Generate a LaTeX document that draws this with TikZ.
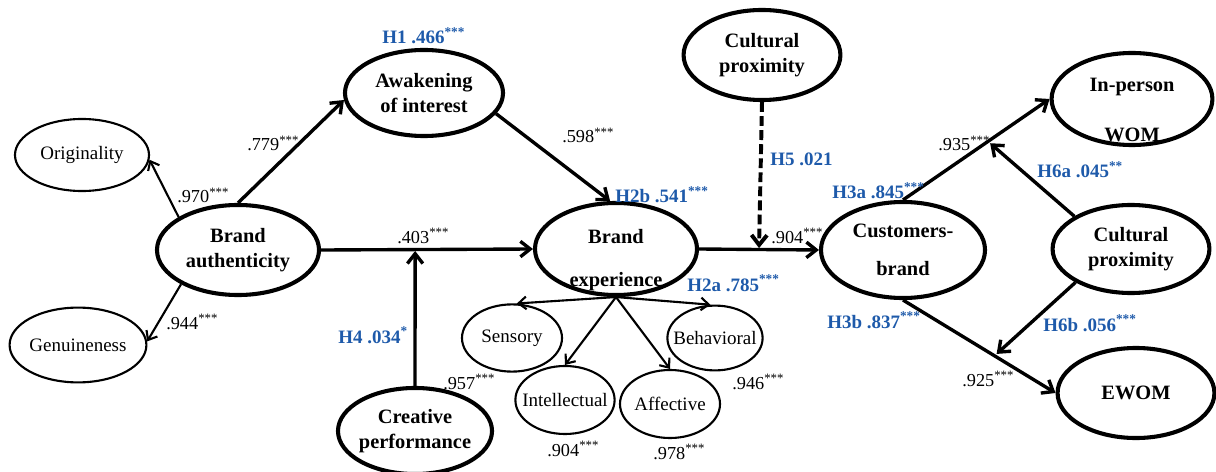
\documentclass[tikz,border=0pt]{standalone}
\usepackage{fontspec}
\setmainfont{Liberation Serif}
\usepackage{xcolor}
\usetikzlibrary{arrows.meta}
\usetikzlibrary{shapes.geometric}
\usetikzlibrary{calc}
\definecolor{hypblue}{RGB}{30,90,170}
\newcommand{\sig}[1]{\textsuperscript{#1}}

\begin{document}
\begin{tikzpicture}[x=0.025cm, y=-0.025cm,
	latent/.style={ellipse, draw, line width=2.9pt, inner sep=-4pt, align=center, font=\fontsize{14.5}{17.4}\bfseries},
	ltext/.style={align=center, inner sep=0pt, font=\fontsize{14.5}{17.4}\bfseries},
	indic/.style={ellipse, draw, line width=1.5pt, inner sep=-8pt, font=\fontsize{13.5}{16}\selectfont},
	coef/.style={anchor=base west, inner sep=0pt, font=\fontsize{13}{15}\selectfont},
	hyp/.style={anchor=base west, inner sep=0pt, text=hypblue, font=\fontsize{13.5}{16}\bfseries},
	path/.style={line width=2.4pt, -{Straight Barb[length=7pt,width=11pt]}},
	load/.style={line width=1.5pt, -{Straight Barb[length=5.5pt,width=9pt]}}]
					\useasboundingbox (0,0) rectangle (1216,472);
					% Draw latent constructs
					\node[latent, minimum width=4.05cm, minimum height=2.25cm] (ba) at (238,250) {Brand\\authenticity};
					\node[latent, minimum width=3.95cm, minimum height=2.15cm] (awk) at (424,93) {Awakening\\of interest};
					\node[latent, minimum width=3.85cm, minimum height=2.15cm] (cp) at (415,431) {Creative\\performance};
					\node[latent, minimum width=4.05cm, minimum height=2.3cm] (be) at (616,249) {};
					\node[ltext] (betxt) at (616,260) {Brand\\[13.6pt]experience};
					\node[latent, minimum width=3.92cm, minimum height=2.25cm] (cpa) at (762,55) {Cultural\\proximity};
					\node[latent, minimum width=4.1cm, minimum height=2.4cm] (cb) at (903,250) {Customers-\\[9.6pt]brand};
					\node[latent, minimum width=4.02cm, minimum height=2.3cm] (wom) at (1132,99) {};
					\node[ltext] (womtxt) at (1132,110) {In-person\\[18pt]WOM};
					\node[latent, minimum width=3.92cm, minimum height=2.2cm] (cpb) at (1131,249) {Cultural\\proximity};
					\node[latent, minimum width=3.92cm, minimum height=2.25cm] (ewom) at (1136,393) {EWOM};
					% Draw indicators
					\node[indic, minimum width=3.35cm, minimum height=1.8cm] (ori) at (82,155) {Originality};
					\node[indic, minimum width=3.42cm, minimum height=1.87cm] (gen) at (78,345) {Genuineness};
					\node[indic, minimum width=2.5cm, minimum height=1.68cm] (sen) at (512,338) {Sensory};
					\node[indic, minimum width=2.48cm, minimum height=1.7cm] (int) at (565,400) {Intellectual};
					\node[indic, minimum width=2.5cm, minimum height=1.7cm] (aff) at (670,404) {Affective};
					\node[indic, minimum width=2.38cm, minimum height=1.62cm] (beh) at (715,338) {Behavioral};
					% moderator targets on the paths
					\coordinate (m1) at ($(ba.east)!0.444!(be.west)$);
					\coordinate (m2) at ($(be.east)!0.5!(cb.west)$);
					\coordinate (m3) at ($(cb.north)!0.58!(wom.west)$);
					\coordinate (m4) at ($(cb.south)!0.6!(ewom.west)$);
					% Draw paths
					\draw[load] (ba.151) -- (ori.-4);
					\draw[load] (ba.211) -- (gen.3);
					\draw[path] (ba.north) -- (awk.185);
					\draw[path] (ba.east) -- (be.west);
					\draw[path, shorten >=1pt] (cp.north) -- (m1);
					\draw[path] (awk.-16) -- (be.97);
					\draw[path, line width=2.8pt, dash pattern=on 7pt off 3pt, shorten >=1pt] (cpa.south) -- (m2);
					\draw[path] (be.east) -- (cb.west);
					\draw[path] (cb.north) -- (wom.west);
					\draw[path, shorten >=2pt] (cpb.150) -- (m3);
					\draw[path] (cb.south) -- (ewom.west);
					\draw[path, shorten >=2pt] (cpb.211) -- (m4);
					\foreach \ind/\ang in {sen/82, int/north, aff/north, beh/98}
						\draw[load] (be.south) -- (\ind.\ang);
					% Coefficients
					\node[coef] (l970) at (177,203) {.970\sig{***}};
					\node[coef] (l779) at (247,151) {.779\sig{***}};
					\node[coef] (l403) at (397,243) {.403\sig{***}};
					\node[coef] (l944) at (166,329) {.944\sig{***}};
					\node[coef] (l957) at (443,389) {.957\sig{***}};
					\node[coef] (l598) at (562,143) {.598\sig{***}};
					\node[coef] (l904a) at (771,243) {.904\sig{***}};
					\node[coef] (l935) at (938,151) {.935\sig{***}};
					\node[coef] (l925) at (962,386) {.925\sig{***}};
					\node[coef] (l946) at (732,389) {.946\sig{***}};
					\node[coef] (l904b) at (547,456) {.904\sig{***}};
					\node[coef] (l978) at (653,459) {.978\sig{***}};
					% Hypotheses
					\node[hyp] (h1) at (382,44) {H1 .466\sig{***}};
					\node[hyp] (h4) at (338,343) {H4 .034\sig{*}};
					\node[hyp] (h2b) at (615,203) {H2b .541\sig{***}};
					\node[hyp] (h5) at (770,166) {H5 .021};
					\node[hyp] (h3a) at (832,199) {H3a .845\sig{***}};
					\node[hyp] (h6a) at (1037,178) {H6a .045\sig{**}};
					\node[hyp] (h3b) at (827,328) {H3b .837\sig{***}};
					\node[hyp] (h6b) at (1043,331) {H6b .056\sig{***}};
					\node[hyp] (h2a) at (687,291) {H2a .785\sig{***}};
				\end{tikzpicture}
\end{document}
